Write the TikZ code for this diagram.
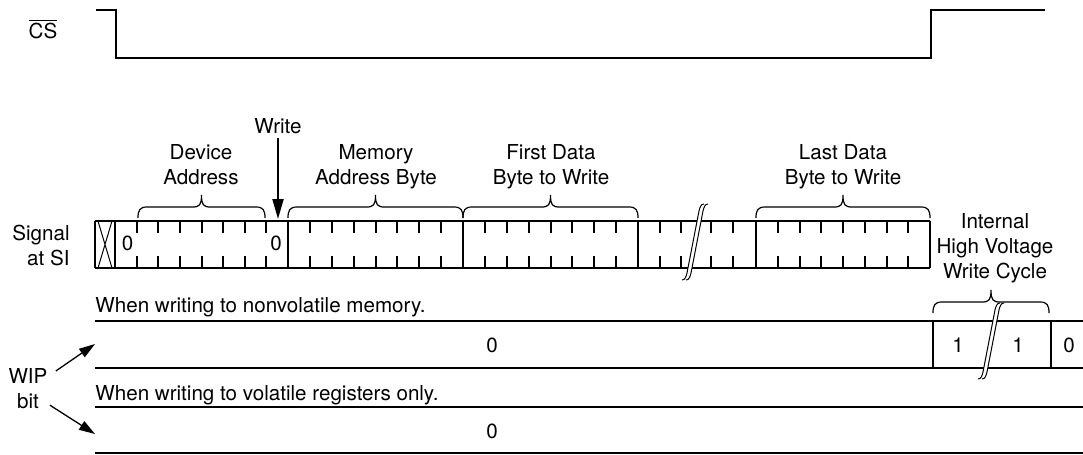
\documentclass[tikz,border=0pt]{standalone}
\usepackage{fontspec}
\setmainfont{TeX Gyre Heros}
\usetikzlibrary{arrows.meta}

% chave horizontal: x inicial, x final, y da linha
\newcommand{\chave}[3]{%
  \pgfmathsetmacro{\xm}{(#1+#2)/2}
  \draw[chave] (#1,#3+11) .. controls (#1,#3+3) and (#1+2,#3) .. (#1+9,#3)
    -- (\xm-9,#3) .. controls (\xm-2,#3) and (\xm,#3-2) .. (\xm,#3-12)
    .. controls (\xm,#3-2) and (\xm+2,#3) .. (\xm+9,#3)
    -- (#2-9,#3) .. controls (#2-2,#3) and (#2,#3+3) .. (#2,#3+11);}

% quebra do eixo de tempo
\newcommand{\quebra}[1]{%
  \begin{scope}[shift={(#1)}]
    \fill[white] (-7,31) -- (5,-31) -- (9,-31) -- (-3,31) -- cycle;
    \draw[fino] (-12,38) .. controls (-9,38) and (-8,35) .. (-7,31) -- (5,-31) .. controls (6,-35) and (7,-38) .. (10,-38);
    \draw[fino] (-8,38) .. controls (-5,38) and (-4,35) .. (-3,31) -- (9,-31) .. controls (10,-35) and (11,-38) .. (14,-38);
  \end{scope}}

\begin{document}
\begin{tikzpicture}[x=0.5pt,y=-0.5pt]
        \tikzstyle{sinal}=[line width=1.35pt]
        \tikzstyle{caixa}=[line width=1.1pt]
        \tikzstyle{divisa}=[line width=1.25pt]
        \tikzstyle{marca}=[line width=1pt]
        \tikzstyle{linha}=[line width=1pt]
        \tikzstyle{fino}=[line width=0.5pt]
        \tikzstyle{chave}=[line width=0.6pt]
        \tikzstyle{rotulo}=[inner sep=0pt, font=\fontsize{10.3pt}{12.5pt}\selectfont]
        \tikzstyle{seta}=[line width=1pt, -{Triangle[length=10pt,width=5.5pt]}]
        \tikzstyle{setafina}=[line width=0.65pt, -{Triangle[length=8pt,width=5pt]}]

        \useasboundingbox (0,0) rectangle (1083,455);

        % CS
        \node[rotulo, anchor=base] (cs) at (43,39) {$\overline{\mbox{CS}}$};
        \draw[sinal] (96,10) -- (116,10) -- (116,58) -- (931,58) -- (931,10) -- (1045,10);

        % campos
        \node[rotulo, anchor=north, align=center] (dev) at (201,144) {Device\\Address};
        \node[rotulo, anchor=north, align=center] (mem) at (376,144) {Memory\\Address Byte};
        \node[rotulo, anchor=north, align=center] (fst) at (551,144) {First Data\\Byte to Write};
        \node[rotulo, anchor=north, align=center] (lst) at (843,144) {Last Data\\Byte to Write};
        \node[rotulo, anchor=north] (wr) at (278,118) {Write};
        \coordinate (wtip) at (278,219);
        \draw[seta] ([yshift=-2pt]wr.south) -- (wtip);

        \chave{138}{265}{207}
        \chave{288}{463}{207}
        \chave{463}{638}{207}
        \chave{756}{930}{207}

        % SI
        \node[rotulo, anchor=north east, align=right] (si) at (70,225) {Signal\\at SI};
        \draw[caixa] (95,221) -- (930,221) (95,268) -- (930,268);
        \foreach \x in {95,115,288,463,638,756,930}
          \draw[divisa] (\x,221) -- (\x,268);
        \draw[fino] (98,221) -- (112,268) (112,221) -- (98,268);
        \foreach \s/\e in {115/288,288/463,463/638,756/930}
          \foreach \k in {1,...,7}
            \draw[marca] ({\s+\k*(\e-\s)/8},221) -- ++(0,12) ({\s+\k*(\e-\s)/8},268) -- ++(0,-12);
        \foreach \x in {659.5,681,711,733}
          \draw[marca] (\x,221) -- ++(0,12) (\x,268) -- ++(0,-12);
        \node[rotulo] at (127.5,243) {0};
        \node[rotulo] at (276,243) {0};
        \quebra{694,242}

        % WIP, memoria nao volatil
        \node[rotulo, anchor=base west] (nv) at (95,312) {When writing to nonvolatile memory.};
        \draw[linha] (95,321) -- (1083,321) (95,368) -- (1083,368);
        \draw[linha] (933,321) -- (933,368) (1051,321) -- (1051,368);
        \node[rotulo] at (492,345) {0};
        \node[rotulo] at (958,345) {1};
        \node[rotulo] at (1018,345) {1};
        \node[rotulo] at (1069,345) {0};
        \quebra{990,341}
        \chave{933}{1049}{302}
        \node[rotulo, anchor=north, align=center] (hv) at (995,213) {Internal\\High Voltage\\Write Cycle};

        % WIP, registradores volateis
        \node[rotulo, anchor=base west] (vr) at (95,400) {When writing to volatile registers only.};
        \draw[linha] (95,407) -- (1083,407) (95,453) -- (1083,453);
        \node[rotulo] at (492,431) {0};

        \node[rotulo, anchor=north, align=center] (wip) at (28,368) {WIP\\bit};
        \coordinate (alvo1) at (95,344);
        \coordinate (alvo2) at (95,434);
        \draw[setafina] ([shift={(4pt,-1.5pt)}]wip.north east) -- (alvo1);
        \draw[setafina] ([shift={(1pt,2pt)}]wip.south east) -- (alvo2);
      \end{tikzpicture}
\end{document}
